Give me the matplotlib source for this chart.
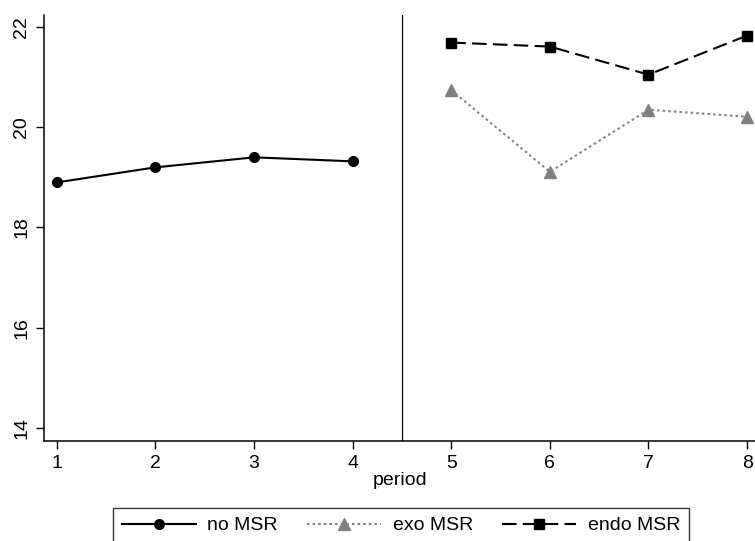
import numpy as np
import matplotlib
matplotlib.use("Agg")
import matplotlib.pyplot as plt

plt.rcParams['font.family'] = ['Liberation Sans', 'DejaVu Sans']

# data
periods_pre = [1, 2, 3, 4]
periods_post = [5, 6, 7, 8]
no_msr = [18.9, 19.2, 19.4, 19.32]
exo_msr = [20.74, 19.11, 20.35, 20.21]
endo_msr = [21.69, 21.61, 21.05, 21.83]
y_ticks = [14, 16, 18, 20, 22]
x_ticks = [1, 2, 3, 4, 5, 6, 7, 8]

fig = plt.figure(figsize=(7.55, 5.41), dpi=100)
ax = fig.add_axes([44/755, 1 - 441/541, 1 - 44/755, (441 - 15)/541])

ax.plot(periods_pre, no_msr, color='black', lw=1.5, marker='o', ms=7, label='no MSR')
ax.plot(periods_post, exo_msr, color='#808080', lw=1.5, ls=(0, (1.2, 1.5)),
        marker='^', ms=8, label='exo MSR')
ax.plot(periods_post, endo_msr, color='black', lw=1.5, ls=(0, (7, 3)),
        marker='s', ms=7, label='endo MSR')

ax.axvline(4.5, color='black', lw=0.9)

ax.set_xlim(0.87, 8.08)
ax.set_ylim(13.74, 22.24)
ax.set_xticks(x_ticks)
ax.set_yticks(y_ticks)
ax.tick_params(axis='x', length=6, width=1, labelsize=14, pad=4)
ax.tick_params(axis='y', length=6, width=1, labelsize=14, pad=4)
for lab in ax.get_yticklabels():
    lab.set_rotation(90)
    lab.set_va('center')
ax.set_xlabel('period', fontsize=14, labelpad=0)

ax.spines['top'].set_visible(False)
ax.spines['right'].set_visible(False)
ax.spines['left'].set_linewidth(1.1)
ax.spines['bottom'].set_linewidth(1.1)

leg = fig.legend(loc='upper center', bbox_to_anchor=(401/755, 1 - 508/541),
                 ncol=3, fontsize=14, handlelength=3.8, columnspacing=1.5,
                 frameon=True, fancybox=False, edgecolor='black',
                 borderpad=0.45, handletextpad=0.6, borderaxespad=0)
leg.get_frame().set_linewidth(1.0)

fig.savefig('out.png', dpi=100)
